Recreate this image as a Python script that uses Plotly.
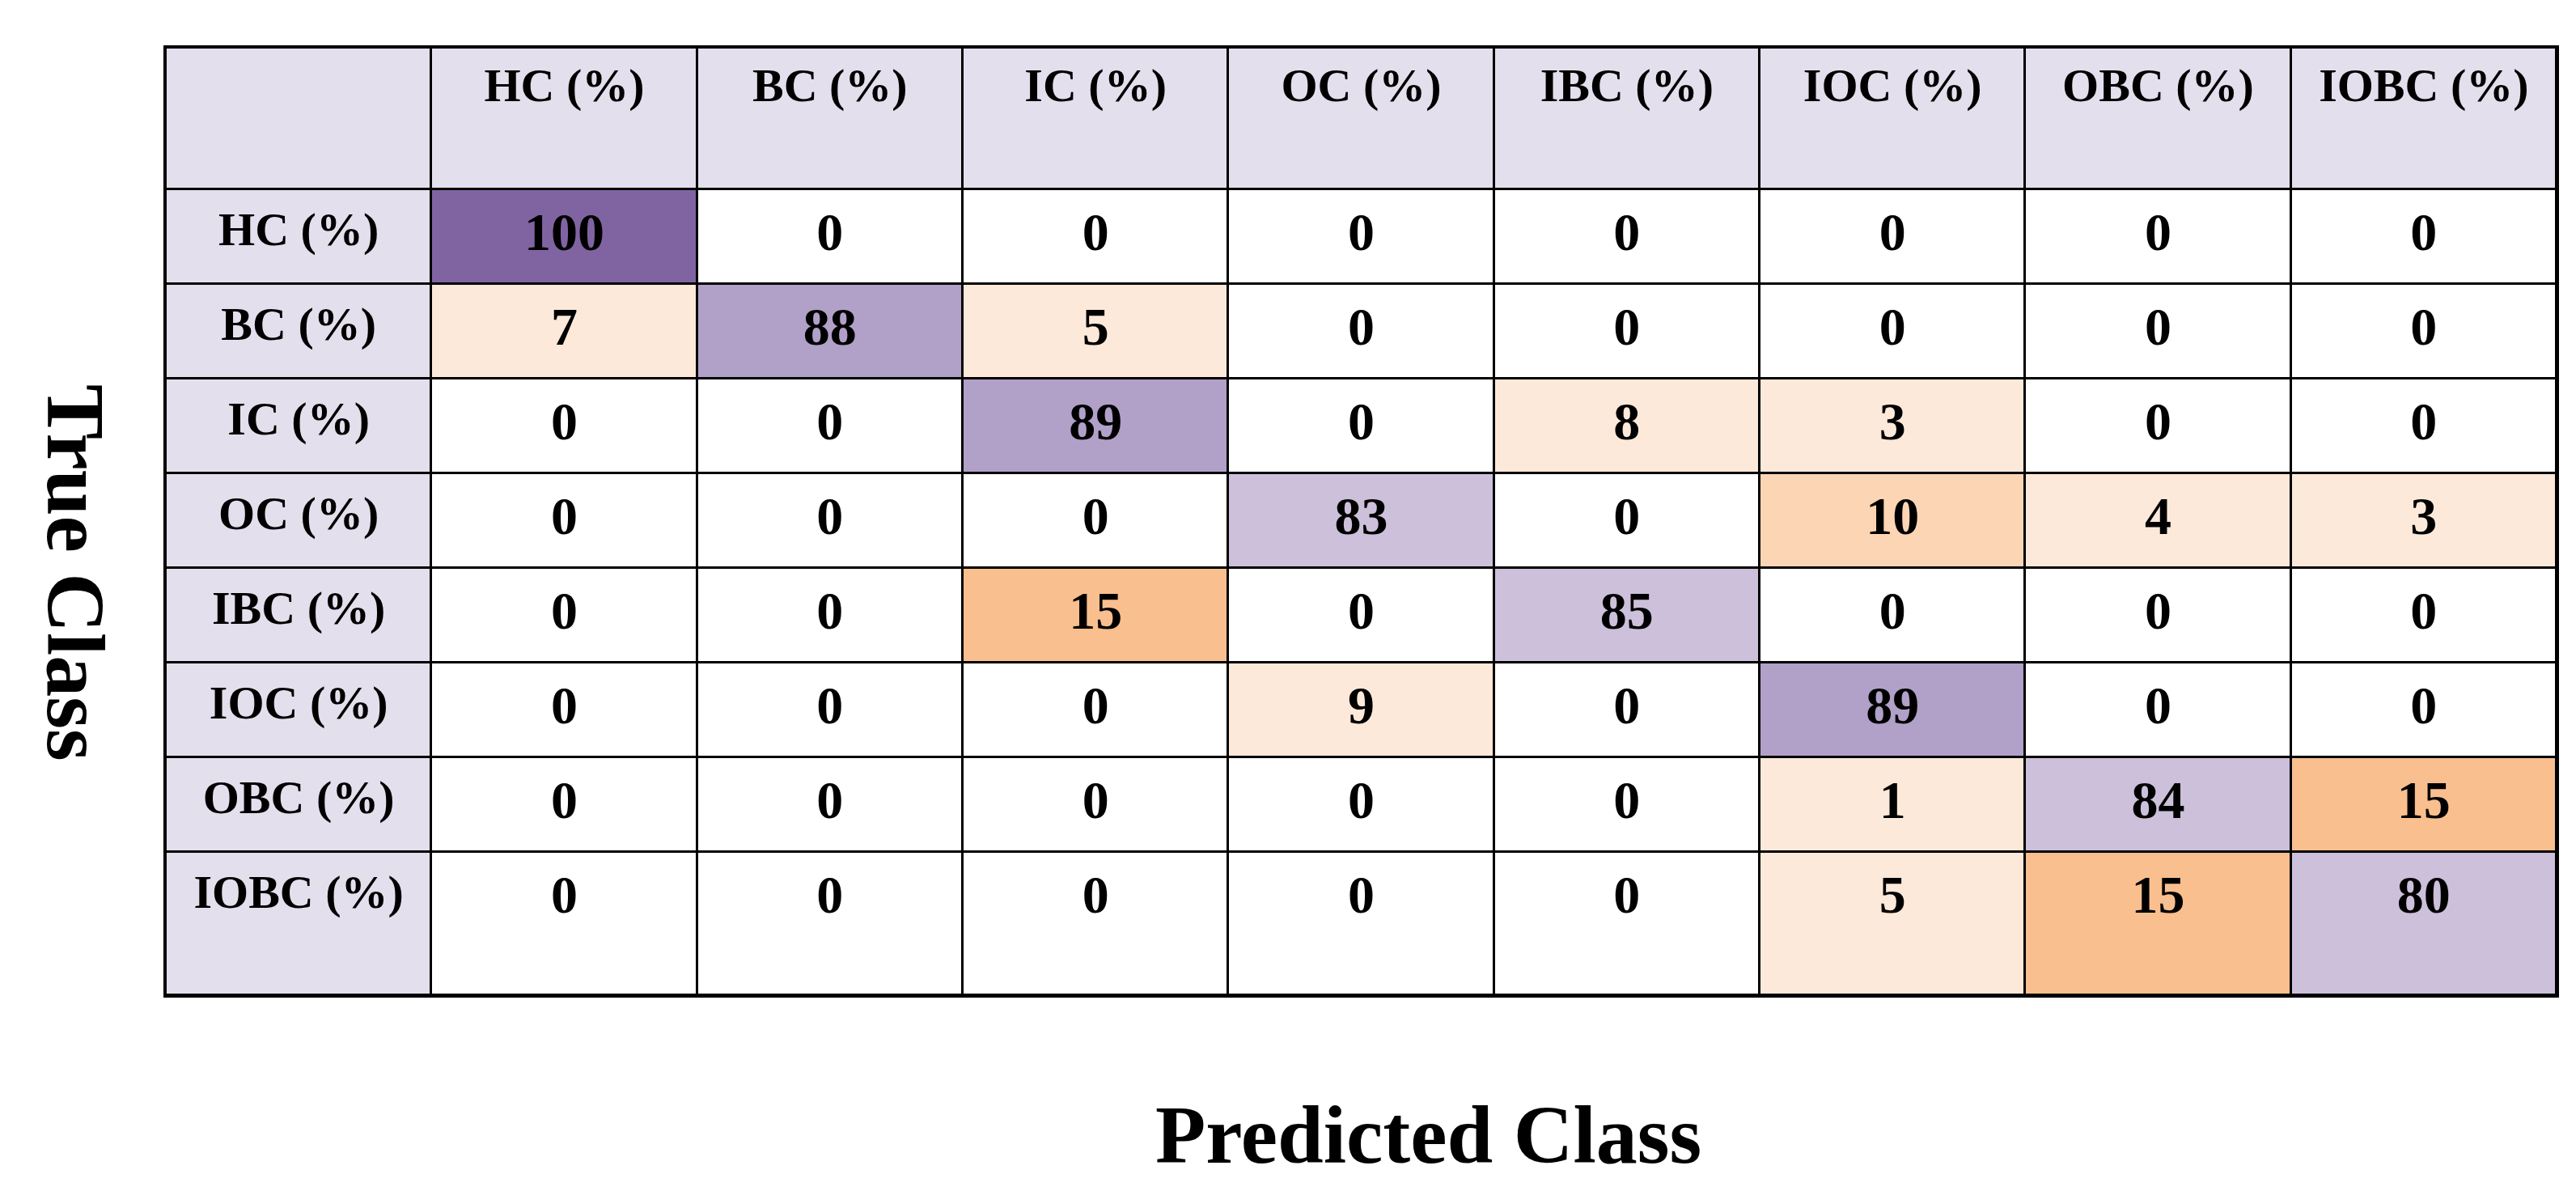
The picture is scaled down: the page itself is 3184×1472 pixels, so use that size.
import plotly.graph_objects as go

# ---------------- data ----------------
classes = ["HC", "BC", "IC", "OC", "IBC", "IOC", "OBC", "IOBC"]
class_labels = ["HC (%)", "BC (%)", "IC (%)", "OC (%)", "IBC (%)", "IOC (%)", "OBC (%)", "IOBC (%)"]

row_HC   = [100, 0, 0, 0, 0, 0, 0, 0]
row_BC   = [7, 88, 5, 0, 0, 0, 0, 0]
row_IC   = [0, 0, 89, 0, 8, 3, 0, 0]
row_OC   = [0, 0, 0, 83, 0, 10, 4, 3]
row_IBC  = [0, 0, 15, 0, 85, 0, 0, 0]
row_IOC  = [0, 0, 0, 9, 0, 89, 0, 0]
row_OBC  = [0, 0, 0, 0, 0, 1, 84, 15]
row_IOBC = [0, 0, 0, 0, 0, 5, 15, 80]
matrix = [row_HC, row_BC, row_IC, row_OC, row_IBC, row_IOC, row_OBC, row_IOBC]

x_title = "Predicted Class"
y_title = "True Class"

# ---------------- styles ----------------
W, H = 3184, 1472
M_L, M_R, M_T, M_B = 197, 32, 51, 250
row_heights = [175] + [117] * 7 + [177]   # header, 8 class rows (last one taller)
palette = ["#FFFFFF", "#FDE9D9", "#FCD5B4", "#FABF8F",
           "#CCC0DA", "#B1A0C7", "#8064A2", "#E4DFEC"]
FONT = "Liberation Serif"


def level(i, j, v):
    if i == j:
        if v >= 95:
            return 6
        if v >= 86:
            return 5
        return 4
    if v == 0:
        return 0
    if v < 10:
        return 1
    if v < 15:
        return 2
    return 3


n = len(classes)
y_edges = [0]
for h in row_heights:
    y_edges.append(y_edges[-1] + h)
x_edges = list(range(n + 2))

# z grid including header row / label column
z = []
for r in range(n + 1):
    row = []
    for c in range(n + 1):
        if r == 0 or c == 0:
            row.append(7)
        else:
            row.append(level(r - 1, c - 1, matrix[r - 1][c - 1]))
    z.append(row)

nlev = len(palette)
cscale = []
for k, col in enumerate(palette):
    cscale.append([k / nlev, col])
    cscale.append([(k + 1) / nlev, col])

fig = go.Figure()
fig.add_trace(go.Heatmap(
    z=z, x=x_edges, y=y_edges,
    colorscale=cscale, zmin=-0.5, zmax=nlev - 0.5,
    showscale=False, xgap=3, ygap=3, hoverinfo="skip",
))

# label texts (header row + first column)
lx, ly, lt = [], [], []
for j, lab in enumerate(class_labels):
    lx.append(j + 1.5); ly.append(y_edges[0] + 51); lt.append(lab)
for i, lab in enumerate(class_labels):
    lx.append(0.5); ly.append(y_edges[i + 1] + 54); lt.append(lab)
fig.add_trace(go.Scatter(
    x=lx, y=ly, text=lt, mode="text", hoverinfo="skip",
    textfont=dict(family=FONT, size=58, color="black", weight="bold"),
))

# value texts
vx, vy, vt = [], [], []
for i, row in enumerate(matrix):
    for j, v in enumerate(row):
        vx.append(j + 1.5); vy.append(y_edges[i + 1] + 58); vt.append(str(v))
fig.add_trace(go.Scatter(
    x=vx, y=vy, text=vt, mode="text", hoverinfo="skip",
    textfont=dict(family=FONT, size=66, color="black", weight="bold"),
))

fig.add_annotation(
    text=x_title, xref="paper", yref="paper", x=(1757 - M_L) / (W - M_L - M_R),
    y=0, yshift=-(1394 - (H - M_B)), xanchor="center", yanchor="middle",
    showarrow=False, font=dict(family=FONT, size=102, color="black", weight="bold"),
)
fig.add_annotation(
    text=y_title, xref="paper", yref="paper", x=0, xshift=-(M_L - 86),
    y=((H - M_B) - 700) / (H - M_T - M_B), xanchor="center", yanchor="middle",
    textangle=90, showarrow=False,
    font=dict(family=FONT, size=102, color="black", weight="bold"),
)

fig.update_layout(
    width=W, height=H, margin=dict(l=M_L, r=M_R, t=M_T, b=M_B),
    paper_bgcolor="white", plot_bgcolor="black", showlegend=False,
    xaxis=dict(range=[0, n + 1], showgrid=False, zeroline=False, showticklabels=False,
               ticks="", showline=True, mirror=True, linewidth=3, linecolor="black",
               fixedrange=True),
    yaxis=dict(range=[y_edges[-1], 0], showgrid=False, zeroline=False, showticklabels=False,
               ticks="", showline=True, mirror=True, linewidth=3, linecolor="black",
               fixedrange=True),
)

fig.write_html("out.html")
